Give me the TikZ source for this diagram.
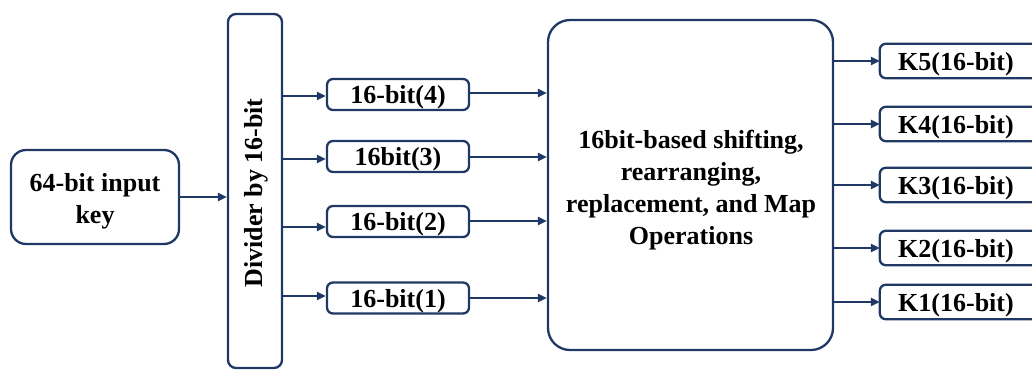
\documentclass[tikz,border=0pt]{standalone}
\usepackage{fontspec}
\setmainfont{Liberation Serif}
\usetikzlibrary{arrows.meta}
\definecolor{navy}{HTML}{1F3864}
\begin{document}
\begin{tikzpicture}[x=1pt,y=-1pt,
  box/.style={draw=navy,line width=2.3pt,align=center,inner sep=0pt,
    font=\fontsize{26}{32}\selectfont\bfseries},
  sbox/.style={box,rounded corners=6pt,minimum width=142pt,minimum height=31pt,text depth=0pt},
  txt/.style={align=center,inner sep=0pt,font=\fontsize{26}{32}\selectfont\bfseries},
  arr/.style={draw=navy,line width=2.3pt,-{Triangle[length=9pt,width=8pt]}}]
\useasboundingbox (0,0) rectangle (1032,370);
\clip (0,0) rectangle (1032,370);
\node[box,rounded corners=15pt,minimum width=168pt,minimum height=94pt] (in) at (95,197) {};
\node[txt] (int) at (95,201) {64-bit input\\key};
\node[box,rounded corners=8pt,minimum width=54pt,minimum height=354pt] (div) at (255,191) {};
\node[txt,rotate=90] (divt) at (256,193) {Divider by 16-bit};
\node[sbox] (b4) at (398,94.5) {16-bit(4)};
\node[sbox] (b3) at (398,156.5) {16bit(3)};
\node[sbox] (b2) at (398,221.5) {16-bit(2)};
\node[sbox] (b1) at (398,298) {16-bit(1)};
\node[box,rounded corners=22pt,minimum width=285pt,minimum height=330pt] (big) at (690.5,185) {};
\node[txt] (bigt) at (691,190) {16bit-based shifting,\\rearranging,\\replacement, and Map\\Operations};
\foreach \k/\y in {5/61,4/124,3/185,2/248,1/302}{
  \node[txt,text depth=0pt,minimum width=152pt,minimum height=34pt] (k\k) at (956,\y) {K\k(16-bit)};
  \draw[navy,line width=2.3pt,rounded corners=6pt] (k\k.north west) rectangle ([xshift=30pt]k\k.south east);
}
\draw[arr] (in.east) -- (div.west |- in.east);
\foreach \b/\y in {b4/96,b3/159,b2/227,b1/296}{
  \draw[arr] (div.east |- {0,\y}) -- (\b.west |- {0,\y});
}
\foreach \b/\y in {b4/93,b3/157,b2/221,b1/298}{
  \draw[arr] (\b.east |- {0,\y}) -- (big.west |- {0,\y});
}
\foreach \k in {5,4,3,2,1}{
  \draw[arr] (big.east |- k\k.west) -- (k\k.west);
}
\end{tikzpicture}
\end{document}
